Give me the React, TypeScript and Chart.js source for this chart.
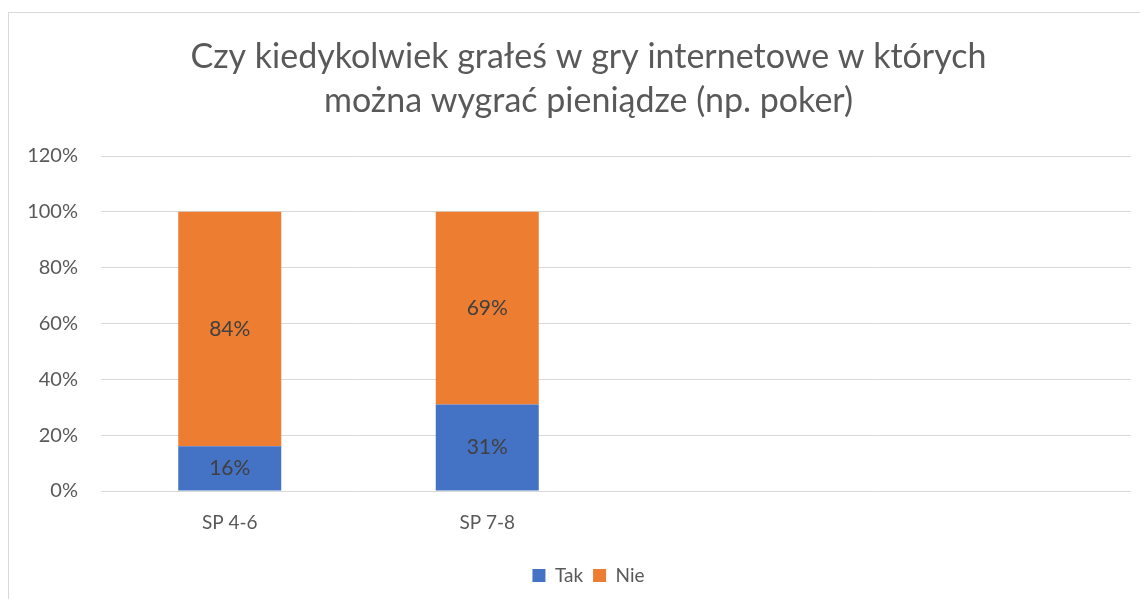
import React, { useEffect, useRef } from "react";
import { Chart, registerables } from "chart.js";

Chart.register(...registerables);

const categories = ["SP 4-6", "SP 7-8", "", ""];
const takValues = [16, 31, null, null];
const nieValues = [84, 69, null, null];
const yTicks = [0, 20, 40, 60, 80, 100, 120];
const titleLines = [
  "Czy kiedykolwiek grałeś w gry internetowe w których",
  "można wygrać pieniądze (np. poker)",
];

const FONT = "Lato, 'Open Sans', sans-serif";

const dataLabelPlugin = {
  id: "dataLabels",
  afterLayout(chart: any) {
    // widen the y-axis label clip area so the tick labels are not cut off
    chart.scales.y.left = 0;
  },
  afterDatasetsDraw(chart: any) {
    const ctx = chart.ctx;
    ctx.save();
    ctx.font = `21px ${FONT}`;
    ctx.fillStyle = "#404040";
    ctx.textAlign = "center";
    ctx.textBaseline = "middle";
    chart.data.datasets.forEach((ds: any, di: number) => {
      const meta = chart.getDatasetMeta(di);
      meta.data.forEach((el: any, i: number) => {
        const v = ds.data[i];
        if (v === null || v === undefined) return;
        const y = (el.y + el.base) / 2;
        ctx.fillText(`${v}%`, el.x, y);
      });
    });
    ctx.restore();
  },
};

export default function App() {
  const ref = useRef<HTMLCanvasElement>(null);
  useEffect(() => {
    if (!ref.current) return;
    const chart = new Chart(ref.current, {
      type: "bar",
      data: {
        labels: categories,
        datasets: [
          {
            label: "Tak",
            data: takValues,
            backgroundColor: "#4472C4",
            barPercentage: 0.4,
            categoryPercentage: 1,
          },
          {
            label: "Nie",
            data: nieValues,
            backgroundColor: "#ED7D31",
            barPercentage: 0.4,
            categoryPercentage: 1,
          },
        ],
      },
      options: {
        responsive: false,
        animation: false,
        layout: { padding: { left: 38, right: 39, top: 0, bottom: 12 } },
        scales: {
          x: {
            stacked: true,
            grid: { display: false, drawTicks: false },
            border: { display: false },
            ticks: { color: "#595959", font: { family: FONT, size: 19 }, padding: 20 },
            afterFit: (s: any) => {
              s.height = 65;
            },
          },
          y: {
            stacked: true,
            min: 0,
            max: 120,
            afterBuildTicks: (s: any) => {
              s.ticks = yTicks.map((v) => ({ value: v }));
            },
            grid: { color: "#d9d9d9", drawTicks: false, lineWidth: 1 },
            border: { display: false },
            ticks: {
              color: "#595959",
              font: { family: FONT, size: 20 },
              padding: 23,
              callback: (v: any) => `${v}%`,
            },
            afterFit: (s: any) => {
              s.width = 55;
            },
          },
        },
        plugins: {
          title: {
            display: true,
            text: titleLines,
            color: "#595959",
            font: { family: FONT, size: 34, weight: "normal", lineHeight: 44 / 34 },
            padding: { top: 23, bottom: 33 },
          },
          legend: {
            position: "bottom",
            labels: {
              color: "#595959",
              font: { family: FONT, size: 19 },
              boxWidth: 13,
              boxHeight: 13,
              padding: 10,
            },
          },
          tooltip: { enabled: false },
        },
      },
      plugins: [dataLabelPlugin],
    });
    return () => chart.destroy();
  }, []);

  return (
    <div style={{ position: "relative", width: 1140, height: 591, overflow: "hidden" }}>
      <div
        style={{
          position: "absolute",
          left: 0,
          top: 4,
          width: 1162,
          height: 700,
          border: "1px solid #d9d9d9",
          boxSizing: "border-box",
        }}
      />
      <canvas
        ref={ref}
        width={1162}
        height={595}
        style={{ position: "absolute", left: 0, top: 4, width: 1162, height: 595 }}
      />
    </div>
  );
}
